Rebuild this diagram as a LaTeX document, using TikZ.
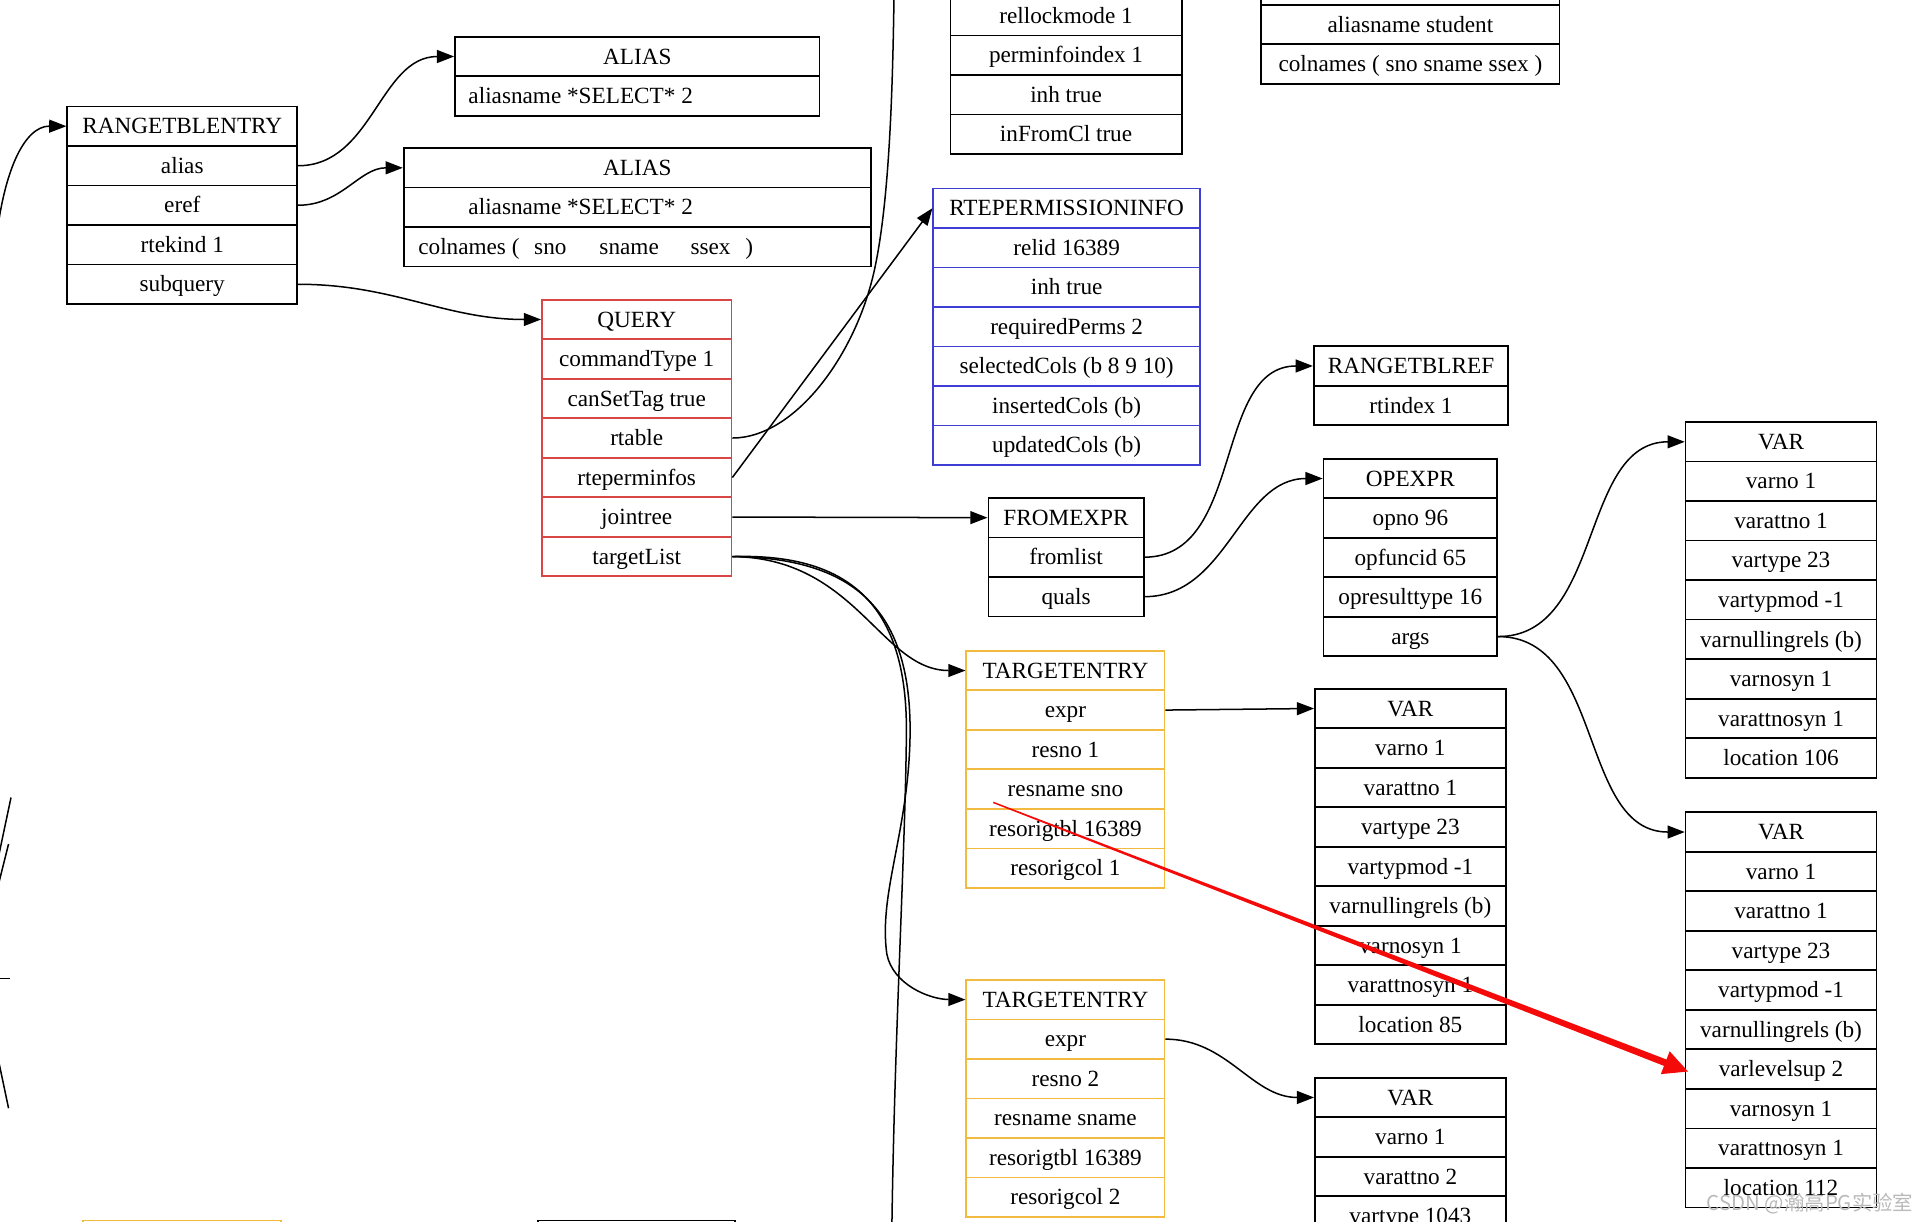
\documentclass[tikz,border=0pt]{standalone}
\usepackage{fontspec}
\setmainfont{Liberation Serif}
\newfontfamily\cjkfont{Noto Sans CJK SC}
\usetikzlibrary{arrows.meta, calc}

\definecolor{qred}{RGB}{216,70,70}
\definecolor{pblue}{RGB}{62,62,214}
\definecolor{tgold}{RGB}{242,186,62}
\definecolor{hlred}{RGB}{245,10,10}

\begin{document}
\begin{tikzpicture}[x=0.2mm, y=-0.2mm,
  cell/.style={draw, line width=0.8pt, minimum height=6.46mm, inner sep=0pt,
               text height=7.1pt, text depth=0pt, font=\fontsize{10.8}{13}\selectfont},
  edge/.style={-{Triangle[length=8pt,width=6pt]}, line width=0.7pt},
  wire/.style={line width=0.7pt}
]
  \useasboundingbox (0,0) rectangle (1568,999);
  \clip (0,0) rectangle (1568,999);

  % RANGETBLENTRY
  \foreach \t [count=\i] in {RANGETBLENTRY, alias, eref, rtekind 1, subquery}
    \node[cell, minimum width=37.6mm] (rte\i) at (149,{103.2+(\i-1)*32.3}) {\t};

  % ALIAS records
  \node[cell, minimum width=59.6mm] (al11) at (521,46.2) {ALIAS};
  \node[cell, minimum width=59.6mm] (al12) at (521,78.5) {\makebox[55.2mm][l]{aliasname *SELECT* 2}};
  \node[cell, minimum width=76.4mm] (al21) at (521,137.2) {ALIAS};
  \node[cell, minimum width=76.4mm] (al22) at (521,169.5) {\makebox[55.2mm][l]{aliasname *SELECT* 2}};
  \node[cell, minimum width=76.4mm] (al23) at (521,201.8)
    {\makebox[71.6mm][l]{colnames (\hspace{2.4mm}sno\hspace{5.4mm}sname\hspace{5.2mm}ssex\hspace{2.4mm})}};

  % QUERY
  \foreach \t [count=\i] in {QUERY, commandType 1, canSetTag true, rtable, rteperminfos, jointree, targetList}
    \node[cell, draw=qred, minimum width=31mm] (qry\i) at (520.5,{261.2+(\i-1)*32.3}) {\t};

  % rtable entry (cut at the top)
  \foreach \t [count=\i] in {rellockmode 1, perminfoindex 1, inh true, inFromCl true}
    \node[cell, minimum width=37.8mm] (rel\i) at (871.5,{12.9+(\i-1)*32.3}) {\t};

  % alias of the table (cut at the top)
  \node[cell, minimum width=48.8mm] (stu0) at (1153,-12.2) {};
  \node[cell, minimum width=48.8mm] (stu1) at (1153,20.1) {aliasname student};
  \node[cell, minimum width=48.8mm] (stu2) at (1153,52.4) {colnames ( sno sname ssex )};

  % RTEPERMISSIONINFO
  \foreach \t [count=\i] in {RTEPERMISSIONINFO, relid 16389, inh true, requiredPerms 2,
                             selectedCols (b 8 9 10), insertedCols (b), updatedCols (b)}
    \node[cell, draw=pblue, minimum width=43.6mm] (rpi\i) at (872,{170.2+(\i-1)*32.3}) {\t};

  % RANGETBLREF
  \foreach \t [count=\i] in {RANGETBLREF, rtindex 1}
    \node[cell, minimum width=31.8mm] (rtr\i) at (1153.5,{299.2+(\i-1)*32.3}) {\t};

  % FROMEXPR
  \foreach \t [count=\i] in {FROMEXPR, fromlist, quals}
    \node[cell, minimum width=25.4mm] (frm\i) at (871.5,{423.2+(\i-1)*32.3}) {\t};

  % OPEXPR
  \foreach \t [count=\i] in {OPEXPR, opno 96, opfuncid 65, opresulttype 16, args}
    \node[cell, minimum width=28.4mm] (opx\i) at (1153,{391.2+(\i-1)*32.3}) {\t};

  % VAR (left arg)
  \foreach \t [count=\i] in {VAR, varno 1, varattno 1, vartype 23, vartypmod -1,
                             varnullingrels (b), varnosyn 1, varattnosyn 1, location 106}
    \node[cell, minimum width=31.2mm] (va\i) at (1456,{361.2+(\i-1)*32.3}) {\t};

  % TARGETENTRY 1
  \foreach \t [count=\i] in {TARGETENTRY, expr, resno 1, resname sno, resorigtbl 16389, resorigcol 1}
    \node[cell, draw=tgold, minimum width=32.4mm] (te1\i) at (871,{548.2+(\i-1)*32.3}) {\t};

  % VAR of TARGETENTRY 1
  \foreach \t [count=\i] in {VAR, varno 1, varattno 1, vartype 23, vartypmod -1,
                             varnullingrels (b), varnosyn 1, varattnosyn 1, location 85}
    \node[cell, minimum width=31.2mm] (vb\i) at (1153,{579.2+(\i-1)*32.3}) {\t};

  % VAR (outer reference)
  \foreach \t [count=\i] in {VAR, varno 1, varattno 1, vartype 23, vartypmod -1,
                             varnullingrels (b), varlevelsup 2, varnosyn 1, varattnosyn 1, location 112}
    \node[cell, minimum width=31.2mm] (vc\i) at (1456,{680.2+(\i-1)*32.3}) {\t};

  % TARGETENTRY 2
  \foreach \t [count=\i] in {TARGETENTRY, expr, resno 2, resname sname, resorigtbl 16389, resorigcol 2}
    \node[cell, draw=tgold, minimum width=32.4mm] (te2\i) at (871,{817.2+(\i-1)*32.3}) {\t};

  % VAR of TARGETENTRY 2
  \foreach \t [count=\i] in {VAR, varno 1, varattno 2, vartype 1043}
    \node[cell, minimum width=31.2mm] (vd\i) at (1153,{897.2+(\i-1)*32.3}) {\t};

  % records cut at the bottom
  \node[cell, draw=tgold, minimum width=32.4mm] (te31) at (149,1014) {};
  \node[cell, minimum width=32.2mm] (bt1) at (520.5,1014) {};

  % edges
  \coordinate (lf) at (-4,205);
  \coordinate (rtup) at (731,-12);
  \coordinate (tlow) at (729,1012);
  \draw[edge] (lf) .. controls (2,140) and (20,103) .. (rte1.west);
  \draw[edge] (rte2.east) to[out=0,in=180] (al11.west);
  \draw[edge] (rte3.east) to[out=0,in=180] (al21.west);
  \draw[edge] (rte5.east) to[out=0,in=180] (qry1.west);
  \draw[wire] (qry4.east) .. controls (650,358) and (700,290) .. (715,220)
              .. controls (728,160) and (730,60) .. (rtup);
  \draw[edge] (qry5.east) -- (rpi1.west);
  \draw[edge] (qry6.east) -- (frm1.west);
  \draw[edge] (qry7.east) .. controls (700,456) and (720,548) .. (te11.west);
  \draw[edge] (qry7.east) .. controls (700,456) and (745,500) .. (744,600)
              .. controls (743,680) and (718,730) .. (725,780)
              .. controls (730,805) and (760,817) .. (te21.west);
  \draw[wire] (qry7.east) .. controls (700,452) and (742,500) .. (741,600)
              .. controls (740,700) and (731,850) .. (tlow);
  \draw[edge] (frm2.east) to[out=0,in=180] (rtr1.west);
  \draw[edge] (frm3.east) to[out=0,in=180] (opx1.west);
  \draw[edge] (opx5.east) to[out=0,in=180] (va1.west);
  \draw[edge] (opx5.east) to[out=0,in=180] (vc1.west);
  \draw[edge] (te12.east) -- (vb1.west);
  \draw[edge] (te22.east) to[out=0,in=180] (vd1.west);

  % pieces of edges from the left
  \draw[wire] (9,652) -- (-2,704);
  \draw[wire] (7,690) -- (-1,722);
  \draw[wire] (0,800) -- (8,800);
  \draw[wire] (-1,868) -- (7,906);

  % red mark
  \coordinate (ra) at (812,656);
  \coordinate (rb) at (1380,876);
  \coordinate (rh) at ($(rb)!4mm!(ra)$);
  \fill[hlred] ($(ra)!0.12mm!90:(rb)$) -- ($(rh)!0.56mm!90:(rb)$) -- ($(rh)!2mm!90:(rb)$)
    -- (rb) -- ($(rh)!2mm!-90:(rb)$) -- ($(rh)!0.56mm!-90:(rb)$) -- ($(ra)!0.12mm!-90:(rb)$) -- cycle;

  \node[anchor=west, inner sep=0pt, text=gray!55, font=\cjkfont\fontsize{9.5}{11}\selectfont]
    (wm) at (1395,984) {CSDN @瀚高PG实验室};
\end{tikzpicture}
\end{document}
